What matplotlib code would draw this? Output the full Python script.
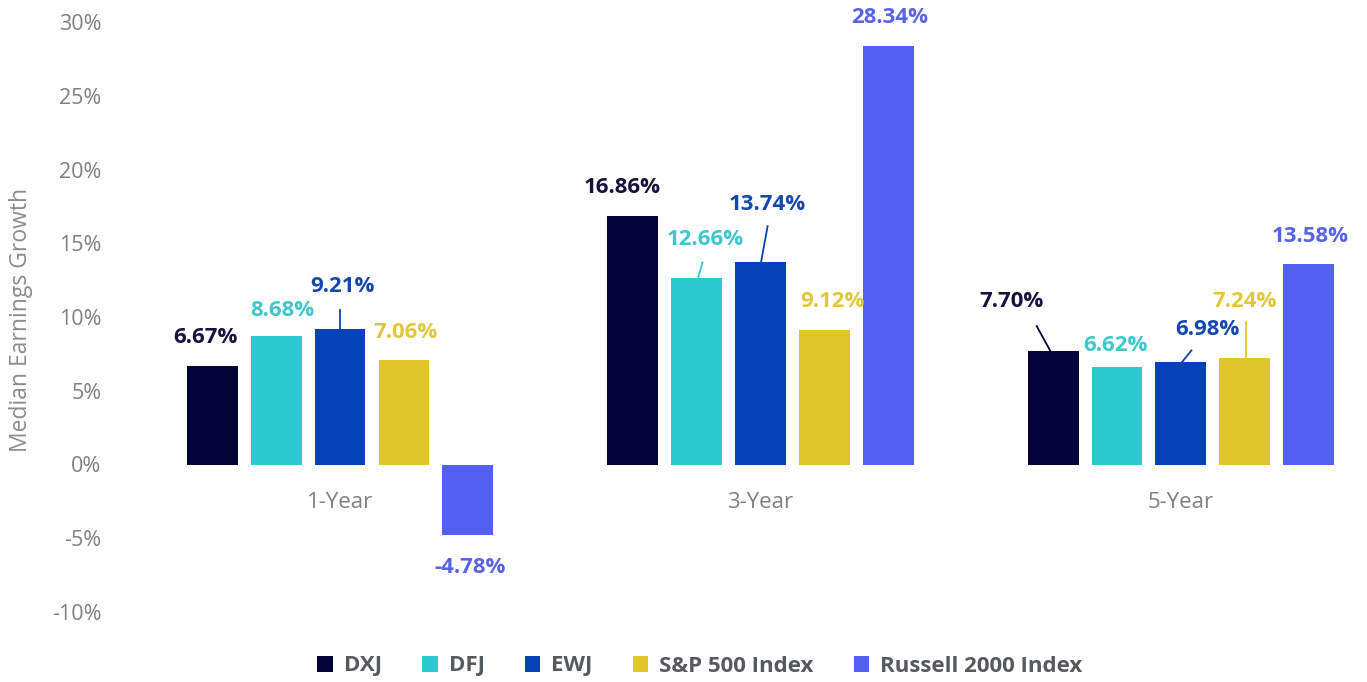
import matplotlib
matplotlib.use("Agg")
import matplotlib.pyplot as plt
from matplotlib.patches import Patch
import numpy as np

periods = ["1-Year", "3-Year", "5-Year"]
series = ["DXJ", "DFJ", "EWJ", "S&P 500 Index", "Russell 2000 Index"]
dxj = [6.67, 16.86, 7.70]
dfj = [8.68, 12.66, 6.62]
ewj = [9.21, 13.74, 6.98]
spx = [7.06, 9.12, 7.24]
rut = [-4.78, 28.34, 13.58]
values = [dxj, dfj, ewj, spx, rut]
colors = ["#04043a", "#2ccad0", "#0642b8", "#e0c62a", "#5360f2"]
label_colors = ["#14143e", "#3cc8cc", "#1448b0", "#e0c83a", "#5a62e8"]

# label text positions (data coords) per series per period
label_pos = [
    [(-0.321, 8.6), (0.671, 18.8), (1.596, 11.05)],
    [(-0.138, 10.45), (0.868, 15.25), (1.845, 8.07)],
    [(0.005, 12.07), (1.015, 17.63), (2.062, 9.15)],
    [(0.155, 8.95), (1.170, 11.05), (2.152, 11.05)],
    [(0.309, -6.98), (1.308, 30.3), (2.307, 15.46)],
]
leaders = [
    ((0.0, 9.0), (0.0, 10.5)),
    ((0.849, 12.36), (0.862, 13.69)),
    ((1.000, 13.51), (1.017, 16.16)),
    ((1.657, 9.38), (1.692, 7.57)),
    ((1.998, 6.78), (2.025, 7.73)),
    ((2.154, 9.65), (2.154, 7.12)),
]
leader_colors = ["#0642b8", "#2ccad0", "#0642b8", "#04043a", "#0642b8", "#e0c62a"]

fig = plt.figure(figsize=(13.67, 6.82), dpi=100)
ax = fig.add_axes([150/1367, 70/682, 1210/1367, 590/682])

x = np.arange(len(periods))
step = 0.152
width = 0.121
for i, (vals, c) in enumerate(zip(values, colors)):
    ax.bar(x + (i - 2) * step, vals, width=width, color=c, label=series[i], zorder=2)
    for j, v in enumerate(vals):
        px, py = label_pos[i][j]
        ax.text(px, py, f"{v:.2f}%", ha="center", va="center", color=label_colors[i],
                fontsize=16, fontweight="bold", family="Open Sans", clip_on=False)

for (p0, p1), lc in zip(leaders, leader_colors):
    ax.plot([p0[0], p1[0]], [p0[1], p1[1]], color=lc, lw=1.3, zorder=3)

ax.set_xlim(-0.452, 2.426)
ax.set_ylim(-10, 30)
ax.set_yticks(np.arange(-10, 31, 5))
ax.set_yticklabels([f"{t}%" for t in range(-10, 31, 5)])
ax.set_xticks(x)
ax.set_xticklabels([])
ax.tick_params(axis="both", length=0, labelsize=15.5, labelcolor="#808080")
ax.tick_params(axis="y", pad=35)
for lab in ax.get_yticklabels():
    lab.set_family("Open Sans")
for s in ax.spines.values():
    s.set_visible(False)

for xi, p in zip(x, periods):
    ax.text(xi, -2.55, p, ha="center", va="center", fontsize=16, color="#808080", family="Open Sans")

fig.text(21/1367, 1 - 320/682, "Median Earnings Growth", rotation=90, ha="center", va="center",
         fontsize=16.5, color="#8c8c8c", family="Open Sans")

handles = [Patch(facecolor=c, edgecolor="none") for c in colors]
leg = fig.legend(handles, series, loc="center", bbox_to_anchor=(700/1367, 1 - 666/682), ncol=5,
                 frameon=False, handlelength=0.7, handleheight=0.7, columnspacing=1.8,
                 handletextpad=0.5, prop={"family": "Open Sans", "weight": "bold", "size": 16})
for t in leg.get_texts():
    t.set_color("#555a60")

fig.savefig("out.png", dpi=100)
